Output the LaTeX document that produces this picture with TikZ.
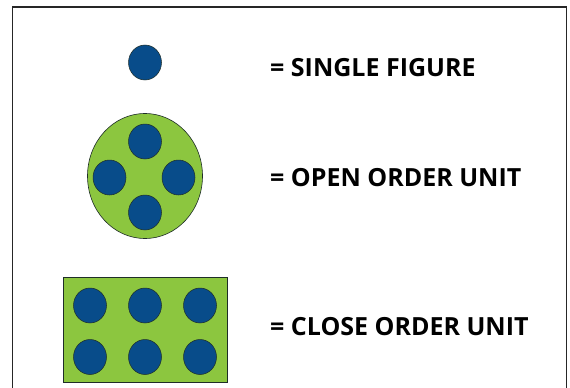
\documentclass[tikz,border=0pt]{standalone}
\usepackage{fontspec}
\setmainfont{Open Sans}
\usetikzlibrary{shapes.geometric}
\definecolor{dotblue}{RGB}{8,76,138}
\definecolor{unitgreen}{RGB}{140,198,63}
\definecolor{edgedark}{RGB}{30,45,40}
\tikzset{
  dot/.style={ellipse,fill=dotblue,draw=edgedark,line width=0.5pt,minimum width=33pt,minimum height=35pt,inner sep=0pt},
  label/.style={anchor=base west,inner sep=0pt,font=\fontsize{25}{28}\selectfont\bfseries},
  frameline/.style={draw=black!85,line width=1.3pt}
}
\begin{document}
\begin{tikzpicture}[x=1pt,y=-1pt]
\useasboundingbox (0,0) rectangle (570,388);
\fill[white] (0,0) rectangle (570,388);
\coordinate (fbl) at (12.5,388);
\coordinate (ftl) at (12.5,7);
\coordinate (ftr) at (566.5,7);
\coordinate (fbr) at (566.5,388);
\draw[frameline] (fbl) -- (ftl) -- (ftr) -- (fbr);
% single figure
\node[dot] (single) at (145,62.5) {};
% open order unit
\node[ellipse,fill=unitgreen,draw=edgedark,line width=0.6pt,minimum width=115pt,minimum height=125pt,inner sep=0pt] (open) at (145,176) {};
\node[dot] (o1) at (145,141.5) {};
\node[dot] (o2) at (109.5,177.5) {};
\node[dot] (o3) at (178.5,177.5) {};
\node[dot] (o4) at (145,212.5) {};
% close order unit
\node[rectangle,fill=unitgreen,draw=edgedark,line width=0.6pt,minimum width=163.5pt,minimum height=105pt,inner sep=0pt] (close) at (145.2,330.2) {};
\node[dot] (c1) at (90,305.5) {};
\node[dot] (c2) at (145,305.5) {};
\node[dot] (c3) at (200,305.5) {};
\node[dot] (c4) at (90,357) {};
\node[dot] (c5) at (145,357) {};
\node[dot] (c6) at (200,357) {};
% labels
\node[label] (t1) at (270,76.5) {= SINGLE FIGURE};
\node[label] (t2) at (270,186) {= OPEN ORDER UNIT};
\node[label] (t3) at (270,335.5) {= CLOSE ORDER UNIT};
\end{tikzpicture}
\end{document}
